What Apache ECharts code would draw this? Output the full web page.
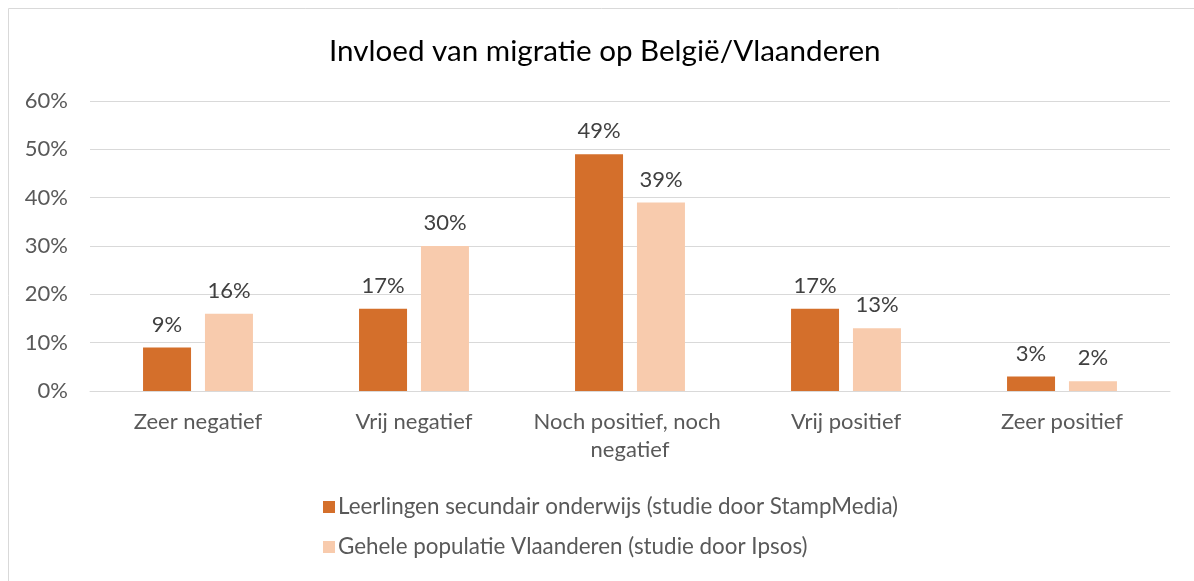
<!DOCTYPE html>
<html>
<head>
<meta charset="utf-8">
<script src="https://cdn.jsdelivr.net/npm/echarts@6/dist/echarts.min.js"></script>
<style>
  html, body { margin: 0; padding: 0; background: #fff; }
  #main { width: 1194px; height: 581px; }
</style>
</head>
<body>
<div id="main"></div>
<script>
var categories = ['Zeer negatief', 'Vrij negatief', 'Noch positief, noch negatief', 'Vrij positief', 'Zeer positief'];
var leerlingen = [9, 17, 49, 17, 3];
var populatie = [16, 30, 39, 13, 2];
var seriesNames = ['Leerlingen secundair onderwijs (studie door StampMedia)', 'Gehele populatie Vlaanderen (studie door Ipsos)'];

var font = 'Lato, "Open Sans", sans-serif';

option = {
    animation: false,
    title: {
        text: 'Invloed van migratie op België/Vlaanderen',
        left: 324,
        top: 31,
        textStyle: {
            fontFamily: font,
            fontSize: 29.6,
            fontWeight: 'normal',
            color: '#000'
        }
    },
    graphic: [{
        type: 'rect',
        shape: { x: 8.5, y: 8.5, width: 1200, height: 600 },
        style: { fill: 'none', stroke: '#d9d9d9', lineWidth: 1 },
        silent: true
    }],
    grid: {
        left: 90,
        right: 24,
        top: 101,
        bottom: 190
    },
    legend: {
        orient: 'vertical',
        left: 318,
        top: 491,
        itemWidth: 12,
        itemHeight: 12,
        itemGap: 18,
        icon: 'rect',
        textStyle: {
            fontFamily: font,
            fontSize: 22.4,
            color: '#595959',
            padding: [0, 0, 0, -2]
        },
        data: seriesNames
    },
    xAxis: {
        type: 'category',
        data: categories,
        axisTick: { show: false },
        axisLine: { lineStyle: { color: '#d9d9d9' } },
        axisLabel: {
            interval: 0,
            fontFamily: font,
            fontSize: 22,
            color: '#595959',
            margin: 17,
            width: 200,
            overflow: 'break',
            lineHeight: 28
        }
    },
    yAxis: {
        type: 'value',
        min: 0,
        max: 60,
        interval: 10,
        axisLine: { show: false },
        axisTick: { show: false },
        splitLine: { lineStyle: { color: '#d9d9d9' } },
        axisLabel: {
            formatter: '{value}%',
            fontFamily: font,
            fontSize: 22,
            color: '#595959',
            margin: 22
        }
    },
    series: [{
        name: seriesNames[0],
        type: 'bar',
        barWidth: 48,
        barGap: '29%',
        itemStyle: { color: '#D46F2B' },
        label: {
            show: true,
            position: 'top',
            distance: 12,
            formatter: '{c}%',
            fontFamily: font,
            fontSize: 22,
            color: '#404040'
        },
        data: leerlingen
    }, {
        name: seriesNames[1],
        type: 'bar',
        barWidth: 48,
        itemStyle: { color: '#F8CBAD' },
        label: {
            show: true,
            position: 'top',
            distance: 12,
            formatter: '{c}%',
            fontFamily: font,
            fontSize: 22,
            color: '#404040'
        },
        data: populatie
    }]
};
var myChart = echarts.init(document.getElementById('main'));
myChart.setOption(option);
</script>
</body>
</html>
